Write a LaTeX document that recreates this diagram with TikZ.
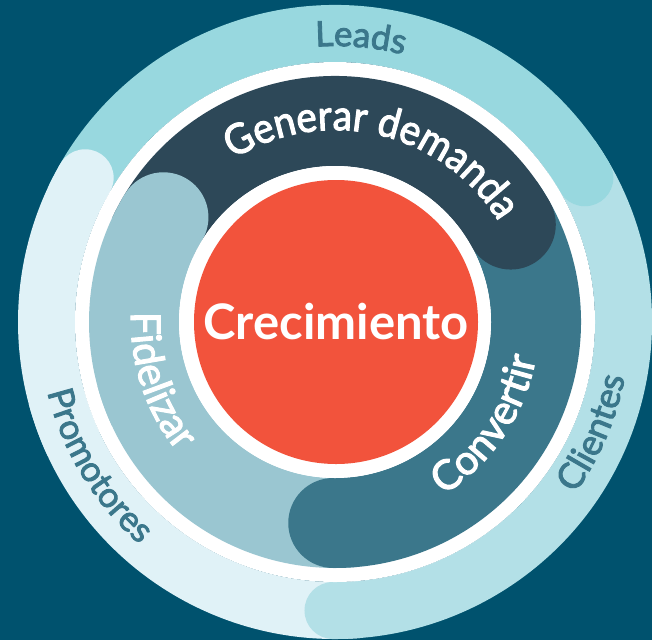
\documentclass[tikz,border=0pt]{standalone}
\usepackage{fontspec}
\setmainfont{Lato}
\newfontfamily\labelfam[FakeBold=2.5]{Lato}
\newfontfamily\narrowfam[FakeBold=2.5,FakeStretch=0.92]{Lato}
\usetikzlibrary{decorations.text}
\definecolor{bgc}{HTML}{00526E}
\definecolor{leadsc}{HTML}{98D8DF}
\definecolor{clientc}{HTML}{B3E0E7}
\definecolor{promoc}{HTML}{E0F2F7}
\definecolor{genc}{HTML}{2D4858}
\definecolor{convc}{HTML}{3B778B}
\definecolor{fidc}{HTML}{9AC6D1}
\definecolor{corec}{HTML}{F2533C}
\tikzset{
  x=1pt,y=1pt,
  outerband/.style={draw=#1,line width=57pt,line cap=butt},
  midband/.style={draw=#1,line width=90pt,line cap=butt},
  curved/.style args={#1/#2/#3}{decorate,decoration={text along path,text align=left,
    text={|\labelfam\fontsize{#1}{#1}\selectfont\color{#2}|#3}}},
  curvednarrow/.style args={#1/#2/#3}{decorate,decoration={text along path,text align=left,
    text={|\narrowfam\fontsize{#1}{#1}\selectfont\color{#2}|#3}}},
}
\newcommand{\band}[5]{% style, colour, from, to, radius
  \draw[#1=#2] (#3:#5) arc[start angle=#3,end angle=#4,radius=#5];}
\begin{document}
\begin{tikzpicture}
\useasboundingbox (0,0) rectangle (652,-640);
\fill[bgc] (0,0) rectangle (652,-640);
\begin{scope}[shift={(335,-322)}]
  % outer ring
  \band{outerband}{promoc}{195}{275}{288.5}
  \band{outerband}{clientc}{35}{-90.4}{288.5}
  \fill[clientc] (-90.4:288.5) circle[radius=28.5];
  \band{outerband}{leadsc}{155}{30}{288.5}
  \fill[leadsc] (30:288.5) circle[radius=28.5];
  \band{outerband}{promoc}{205}{150}{288.5}
  \fill[promoc] (150:288.5) circle[radius=28.5];
  % white separator
  \fill[white] (0,0) circle[radius=260];
  % middle ring
  \band{midband}{fidc}{195}{275}{201}
  \band{midband}{convc}{35}{-90.5}{201}
  \fill[convc] (-90.5:201) circle[radius=45];
  \band{midband}{genc}{155}{29}{201}
  \fill[genc] (29:201) circle[radius=45];
  \band{midband}{fidc}{205}{148.6}{201}
  \fill[fidc] (148.6:201) circle[radius=45];
  % core
  \fill[white] (0,0) circle[radius=156];
  \node[circle,fill=corec,inner sep=0pt,minimum size=284pt,text=white,
        font=\bfseries\fontsize{49}{49}\selectfont] (core) at (1,0) {Crecimiento};
  % curved labels
  \path[curvednarrow=42/white/Generar demanda] (122:192) arc[start angle=122,end angle=10,radius=192];
  \path[curved=41/white/Convertir] (-58:204) arc[start angle=-58,end angle=15,radius=204];
  \path[curved=41/white/Fidelizar] (177.2:204) arc[start angle=177.2,end angle=240,radius=204];
  \path[curved=35/convc/Leads] (94:276) arc[start angle=94,end angle=60,radius=276];
  \path[curved=36/convc/Clientes] (-35.6:295) arc[start angle=-35.6,end angle=5,radius=295];
  \path[curved=35/convc/Promotores] (193.7:296) arc[start angle=193.7,end angle=245,radius=296];
\end{scope}
\end{tikzpicture}
\end{document}
